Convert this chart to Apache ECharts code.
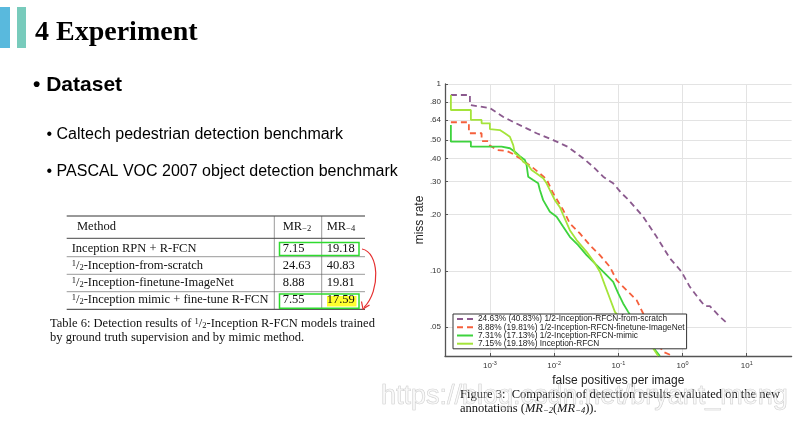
<!DOCTYPE html>
<html><head><meta charset="utf-8">
<script src="https://cdn.jsdelivr.net/npm/echarts@6/dist/echarts.min.js"></script>
<style>html,body{margin:0;padding:0;background:#fff}#c{width:807px;height:433px}</style>
</head><body><div id="c"></div><script>
// ---------- chart data (false positives per image, miss rate) ----------
const scratchFppi = [2.47e-4,4.89e-4,4.89e-4,0.001,0.0016,0.00228,0.00373,0.00534,0.00968,0.0164,0.0284,0.0406,0.0582,0.0833,0.1125,0.1426,0.244,0.395,0.637,0.968,1.30,1.87,2.23,2.67,3.83,4.87];
const scratchMr   = [0.873,0.873,0.772,0.744,0.668,0.628,0.579,0.545,0.501,0.461,0.400,0.361,0.319,0.294,0.260,0.241,0.195,0.152,0.1165,0.0988,0.0821,0.0697,0.0647,0.0647,0.0567,0.0527];

const finetuneFppi = [2.47e-4,4.71e-4,4.71e-4,7.43e-4,7.43e-4,9.4e-4,0.001,0.00129,0.00184,0.00218,0.00293,0.00446,0.00601,0.00764,0.00968,0.01387,0.0176,0.0252,0.0361,0.0517,0.0740,0.0942,0.1346,0.1928,0.244,0.310,0.395,0.501,0.708];
const finetuneMr   = [0.624,0.624,0.545,0.545,0.495,0.495,0.469,0.443,0.438,0.426,0.400,0.361,0.332,0.309,0.260,0.2114,0.1795,0.1585,0.1372,0.1213,0.105,0.0891,0.0788,0.0697,0.0591,0.0491,0.0417,0.0368,0.035];

const mimicFppi = [2.47e-4,2.47e-4,5.06e-4,5.06e-4,0.00152,0.00205,0.00245,0.00293,0.00351,0.00373,0.00395,0.00472,0.00565,0.00601,0.00676,0.0086,0.01094,0.01387,0.0176,0.0237,0.0321,0.0459,0.0657,0.0833,0.0998,0.119,0.1426,0.217,0.31,0.395,0.445];
const mimicMr   = [0.603,0.491,0.491,0.462,0.462,0.453,0.434,0.411,0.392,0.368,0.319,0.306,0.294,0.2705,0.239,0.207,0.1947,0.172,0.152,0.1372,0.1213,0.1073,0.0948,0.0873,0.0757,0.0669,0.0603,0.0481,0.0415,0.0368,0.035];

const inceptionFppi = [2.47e-4,2.47e-4,5.06e-4,5.06e-4,7.43e-4,7.43e-4,0.001,0.001,0.00143,0.00171,0.00205,0.00231,0.00245,0.00293,0.0033,0.00395,0.00446,0.00534,0.00676,0.00764,0.0086,0.01028,0.0123,0.01387,0.0176,0.0224,0.0321,0.0432,0.0517,0.0618,0.0740,0.0885,0.152,0.259,0.35,0.419];
const inceptionMr   = [0.873,0.726,0.726,0.642,0.642,0.616,0.616,0.574,0.567,0.545,0.522,0.471,0.426,0.408,0.384,0.368,0.346,0.332,0.3126,0.294,0.2705,0.239,0.219,0.199,0.165,0.146,0.1264,0.1096,0.0988,0.0838,0.0711,0.0603,0.0481,0.041,0.0384,0.035];

const seriesNames = [
  '24.63% (40.83%) 1/2-Inception-RFCN-from-scratch',
  '8.88% (19.81%) 1/2-Inception-RFCN-finetune-ImageNet',
  '7.31% (17.13%) 1/2-Inception-RFCN-mimic',
  '7.15% (19.18%) Inception-RFCN'
];
const xTicks = [0.001, 0.01, 0.1, 1, 10];
const yTicks = [0.05, 0.1, 0.2, 0.3, 0.4, 0.5, 0.64, 0.8, 1];

// ---------- table data ----------
const methodNames = ['Inception RPN + R-FCN','1/2-Inception-from-scratch','1/2-Inception-finetune-ImageNet','1/2-Inception mimic + fine-tune R-FCN'];
const mr2Values = ['7.15','24.63','8.88','7.55'];
const mr4Values = ['19.18','40.83','19.81','17.59'];

const SERIF = '"Liberation Serif","Times New Roman",serif';
const SANS = '"Liberation Sans",Arial,sans-serif';

const zip = (a, b) => a.map((v, i) => [v, b[i]]);
const half = s => s.replace('1/2', '{sp|1}/{sb|2}');
const halfRich = {
  sp: {fontSize: 8.5, fontFamily: SERIF, verticalAlign: 'top', fill: '#111'},
  sb: {fontSize: 8.5, fontFamily: SERIF, verticalAlign: 'bottom', fill: '#111'},
  i: {fontSize: 12.5, fontFamily: SERIF, fontStyle: 'italic', fill: '#111'},
  s: {fontSize: 8.5, fontFamily: SERIF, fontStyle: 'italic', verticalAlign: 'bottom', fill: '#111'},
  m: {fontSize: 12.5, fontFamily: SERIF, fill: '#111'},
  ms: {fontSize: 8.5, fontFamily: SERIF, verticalAlign: 'bottom', fill: '#111'}
};

function txt(x, y, text, opts) {
  return {type: 'text', x: x, y: y, style: Object.assign({
    text: text, fill: '#111', align: 'left', verticalAlign: 'middle', fontFamily: SERIF, fontSize: 12.5, rich: halfRich
  }, opts || {})};
}
function hline(x1, x2, y, w, c) {
  return {type: 'line', shape: {x1: x1, y1: y, x2: x2, y2: y}, style: {stroke: c || '#333', lineWidth: w}};
}
function vline(x, y1, y2, w, c) {
  return {type: 'line', shape: {x1: x, y1: y1, x2: x, y2: y2}, style: {stroke: c || '#333', lineWidth: w}};
}

const graphics = [
  {type: 'rect', shape: {x: 0, y: 7, width: 10, height: 41}, style: {fill: '#59B9DD'}},
  {type: 'rect', shape: {x: 17, y: 7, width: 9, height: 41}, style: {fill: '#78CBBC'}},
  txt(35, 32.3, '4 Experiment', {fontSize: 28, fontWeight: 'bold', fill: '#000'}),
  txt(33, 85.4, '\u2022 Dataset', {fontFamily: SANS, fontSize: 21, fontWeight: 'bold', fill: '#000'}),
  txt(46.5, 134.5, '\u2022 Caltech pedestrian detection benchmark', {fontFamily: SANS, fontSize: 16, fill: '#000'}),
  txt(46.5, 171.2, '\u2022 PASCAL VOC 2007 object detection benchmark', {fontFamily: SANS, fontSize: 16, fill: '#000'}),
  // table
  {type: 'rect', shape: {x: 327, y: 296, width: 29.5, height: 10.5}, style: {fill: '#FFFF2E'}},
  hline(66.7, 365, 216, 1),
  hline(66.7, 365, 238.3, 0.9),
  hline(66.7, 365, 256.7, 0.6, '#555'),
  hline(66.7, 365, 274.3, 0.6, '#555'),
  hline(66.7, 365, 291.7, 0.6, '#555'),
  hline(66.7, 365, 309.3, 1),
  vline(274.3, 216, 309.3, 0.6, '#555'),
  vline(321.7, 216, 309.3, 0.6, '#555'),
  txt(77, 226.7, 'Method'),
  txt(282.7, 227, '{m|MR}{ms|\u22122}'),
  txt(326.7, 227, '{m|MR}{ms|\u22124}')
];
const rowY = [249, 265.7, 282.7, 300];
methodNames.forEach((m, i) => {
  graphics.push(txt(71.7, rowY[i], half(m)));
  graphics.push(txt(282.7, rowY[i], mr2Values[i]));
  graphics.push(txt(326.7, rowY[i], mr4Values[i]));
});
graphics.push(
  {type: 'rect', shape: {x: 279.5, y: 242.5, width: 79.5, height: 13}, style: {fill: 'none', stroke: '#2EDB2E', lineWidth: 1.5}},
  {type: 'rect', shape: {x: 279.5, y: 294, width: 79.5, height: 14.3}, style: {fill: 'none', stroke: '#2EDB2E', lineWidth: 1.5}},
  {type: 'bezierCurve', shape: {x1: 362, y1: 249, cpx1: 379, cpy1: 252, cpx2: 381, cpy2: 290, x2: 364, y2: 307.5}, style: {stroke: '#E53030', lineWidth: 1.2, fill: null}},
  {type: 'polyline', shape: {points: [[361.5, 301.5], [363, 309], [369.5, 305]]}, style: {stroke: '#E53030', lineWidth: 1.2, fill: null}},
  txt(50, 323.3, 'Table 6: Detection results of ' + half('1/2') + '-Inception R-FCN models trained'),
  txt(50, 337.3, 'by ground truth supervision and by mimic method.'),
  txt(460, 395, 'Figure 3:  Comparison of detection results evaluated on the new'),
  txt(460, 408.3, 'annotations ({i|MR}{s|\u22122}({i|MR}{s|\u22124})).'),
  Object.assign(txt(381, 397, 'https://blog.csdn.net/bryant_meng', {fontFamily: SANS, fontSize: 27, fill: 'rgba(240,240,240,0.35)', stroke: 'rgba(165,165,165,0.6)', lineWidth: 0.6}), {z: 100})
);

const colors = ['#8B5A8E', '#F5603C', '#3DD33D', '#A4E43A'];
const dashed = [6, 4];
const seriesData = [zip(scratchFppi, scratchMr), zip(finetuneFppi, finetuneMr), zip(mimicFppi, mimicMr), zip(inceptionFppi, inceptionMr)];

const option = {
  animation: false,
  backgroundColor: '#fff',
  grid: {left: 445, top: 84, right: 15.4, bottom: 77, show: false},
  xAxis: {
    type: 'log', logBase: 10, min: 0.0002, max: 50,
    axisLine: {show: true, onZero: false, lineStyle: {color: '#555', width: 1.3}},
    axisTick: {show: true, inside: true, length: 3, customValues: xTicks, lineStyle: {color: '#555'}},
    axisLabel: {
      customValues: xTicks, margin: 4,
      formatter: v => '{b|10}{e|' + Math.round(Math.log10(v)) + '}',
      rich: {
        b: {fontSize: 8, color: '#333', fontFamily: SANS, lineHeight: 12},
        e: {fontSize: 5.5, color: '#333', fontFamily: SANS, verticalAlign: 'top', lineHeight: 12}
      }
    },
    splitLine: {show: true, lineStyle: {color: '#e3e3e3', width: 1}},
    name: 'false positives per image', nameLocation: 'middle', nameGap: 13,
    nameTextStyle: {fontSize: 12, color: '#222', fontFamily: SANS}
  },
  yAxis: {
    type: 'log', logBase: 10, min: 0.035, max: 1,
    axisLine: {show: true, onZero: false, lineStyle: {color: '#555', width: 1.3}},
    axisTick: {show: true, inside: true, length: 3, customValues: yTicks, lineStyle: {color: '#555'}},
    axisLabel: {
      customValues: yTicks, margin: 4, fontSize: 8, color: '#333', fontFamily: SANS,
      formatter: v => v >= 1 ? '1' : '.' + String(Math.round(v * 100)).padStart(2, '0')
    },
    splitLine: {show: true, lineStyle: {color: '#e3e3e3', width: 1}},
    name: 'miss rate', nameLocation: 'middle', nameGap: 12,
    nameTextStyle: {fontSize: 12, color: '#222', fontFamily: SANS}
  },
  legend: {
    orient: 'vertical', left: 453, top: 314, padding: [1, 2, 1, 3], itemGap: 0,
    itemWidth: 16, itemHeight: 8, backgroundColor: '#fff', borderColor: '#333', borderWidth: 1,
    itemStyle: {opacity: 0, color: 'rgba(0,0,0,0)', borderColor: 'rgba(0,0,0,0)', borderWidth: 0},
    textStyle: {fontSize: 8.3, color: '#222', fontFamily: SANS, lineHeight: 8.2},
    data: seriesNames
  },
  graphic: graphics,
  series: seriesNames.map((n, i) => ({
    type: 'line', name: n, data: seriesData[i], symbol: 'none', showSymbol: false, clip: true,
    lineStyle: {color: colors[i], width: 1.8, type: i < 2 ? dashed : 'solid'},
    itemStyle: {color: colors[i]}
  }))
};
echarts.init(document.getElementById('c')).setOption(option);
</script></body></html>
